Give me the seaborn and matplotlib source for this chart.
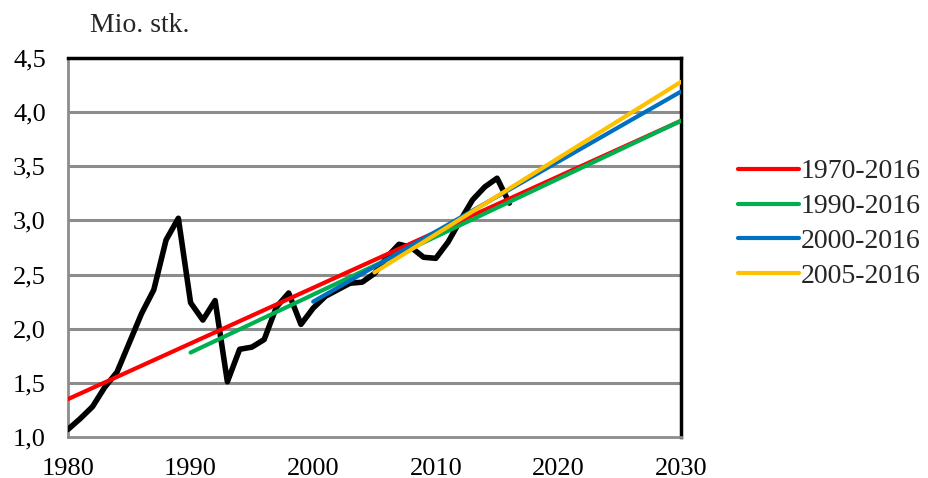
import numpy as np
import pandas as pd
import matplotlib
matplotlib.use("Agg")
import matplotlib.pyplot as plt
import seaborn as sns

years = list(range(1980, 2017))
values = [1.07, 1.17, 1.28, 1.46, 1.60, 1.87, 2.14, 2.36, 2.82, 3.02,
          2.24, 2.08, 2.26, 1.51, 1.81, 1.83, 1.90, 2.20, 2.33, 2.04,
          2.19, 2.30, 2.36, 2.42, 2.43, 2.51, 2.66, 2.78, 2.75, 2.66,
          2.65, 2.80, 3.00, 3.19, 3.31, 3.39, 3.16]

trend_labels = ["1970-2016", "1990-2016", "2000-2016", "2005-2016"]
trend_start_year = [1980, 1990, 2000, 2005]
trend_end_year = [2030, 2030, 2030, 2030]
trend_start_val = [1.35, 1.78, 2.25, 2.52]
trend_end_val = [3.92, 3.92, 4.19, 4.28]
trend_colors = ["#FF0000", "#00B050", "#0070C0", "#FFC000"]

x_ticks = [1980, 1990, 2000, 2010, 2020, 2030]
y_ticks = [1.0, 1.5, 2.0, 2.5, 3.0, 3.5, 4.0, 4.5]
y_ticklabels = ["1,0", "1,5", "2,0", "2,5", "3,0", "3,5", "4,0", "4,5"]

sns.set_theme(style="white")
plt.rcParams['font.family'] = ['Liberation Serif', 'DejaVu Serif']

fig = plt.figure(figsize=(9.29, 4.78), dpi=100)
ax = fig.add_axes([68/929, 1-437/478, (681-68)/929, (437-58)/478])

grid_color = "#8C8C8C"
for yv in y_ticks[1:-1]:
    ax.axhline(yv, color=grid_color, lw=2.2, zorder=0)

df = pd.DataFrame({"year": years, "value": values})
sns.lineplot(data=df, x="year", y="value", color="black", lw=4.0, ax=ax,
             zorder=3, legend=False)

handles = []
for lab, x0, x1, y0, y1, c in zip(trend_labels, trend_start_year, trend_end_year,
                                  trend_start_val, trend_end_val, trend_colors):
    tdf = pd.DataFrame({"year": [x0, x1], "value": [y0, y1]})
    sns.lineplot(data=tdf, x="year", y="value", color=c, lw=3.0, ax=ax,
                 zorder=4, legend=False)
    handles.append(plt.Line2D([], [], color=c, lw=3.0, solid_capstyle="round", label=lab))

ax.set_xlim(1980, 2030)
ax.set_ylim(1.0, 4.5)
ax.set_xticks(x_ticks)
ax.set_xticklabels([str(t) for t in x_ticks], fontsize=19)
ax.set_yticks(y_ticks)
ax.set_yticklabels(y_ticklabels, fontsize=19)
ax.set_xlabel("")
ax.set_ylabel("")
ax.tick_params(axis="both", direction="out", length=6, width=1.5, color=grid_color,
               labelcolor="black")
ax.tick_params(axis="y", pad=10)
ax.tick_params(axis="x", pad=9)

for side in ["left", "bottom"]:
    ax.spines[side].set_color(grid_color)
    ax.spines[side].set_linewidth(2)
for side in ["top", "right"]:
    ax.spines[side].set_color("black")
    ax.spines[side].set_linewidth(2.5)
    ax.spines[side].set_visible(True)

fig.text(90/929, 1-26/478, "Mio. stk.", fontsize=20, ha="left", va="center")

fig.legend(handles=handles, loc="center left", bbox_to_anchor=(738/929, 1-224/478),
           frameon=False, fontsize=20, handlelength=2.2, handletextpad=0.05,
           labelspacing=0.34, borderpad=0, borderaxespad=0)

fig.savefig("out.png", dpi=100)
